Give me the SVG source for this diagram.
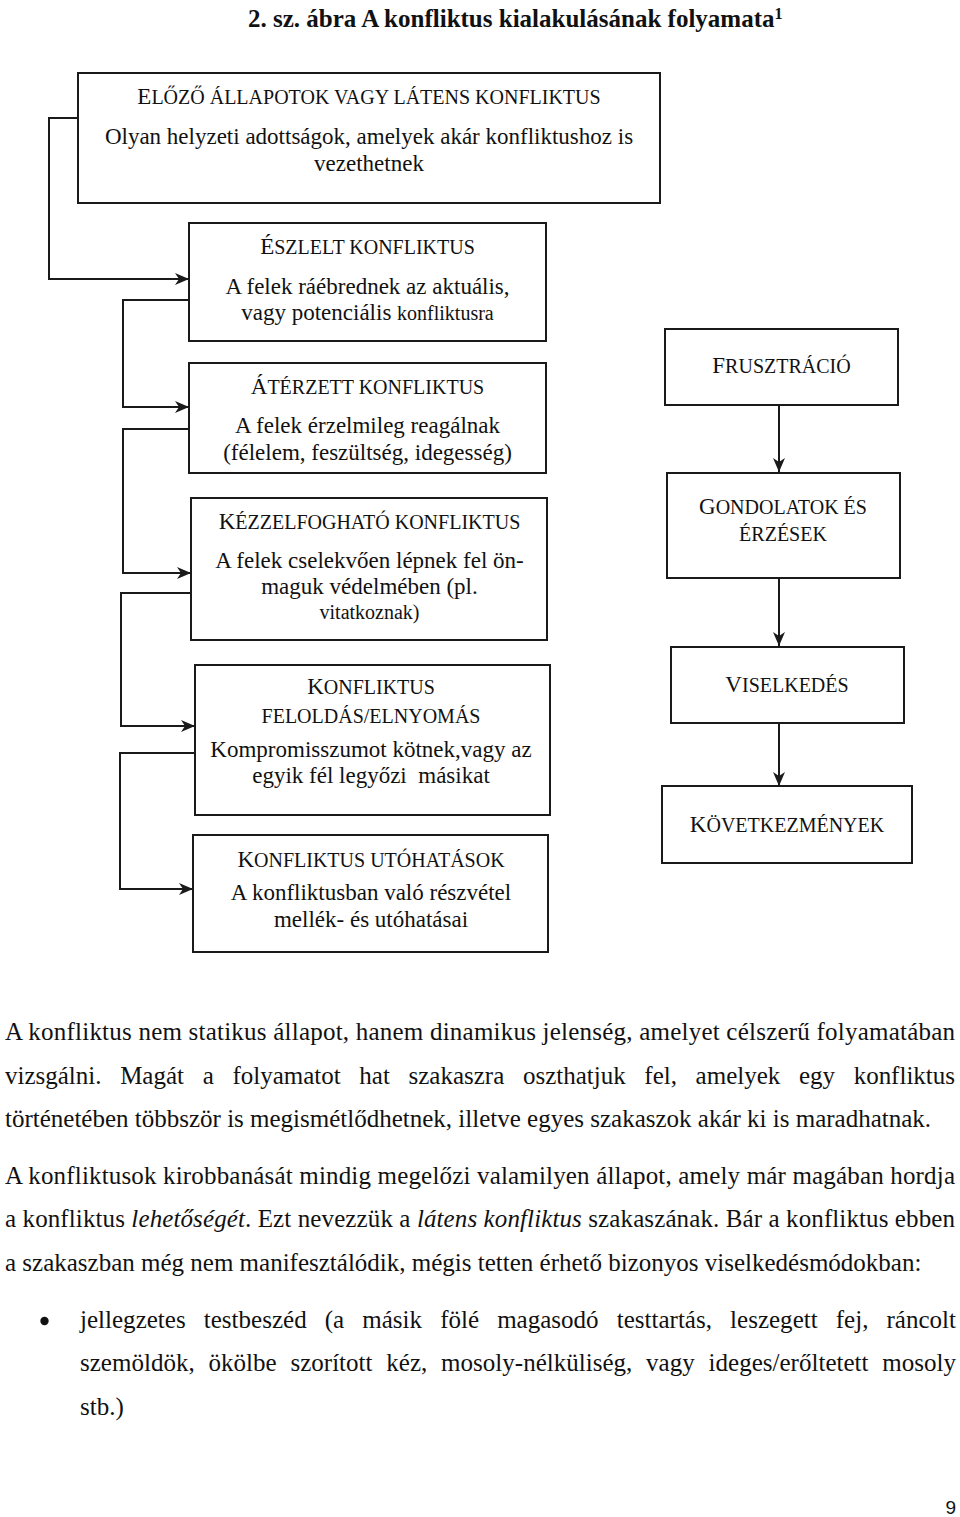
<svg xmlns="http://www.w3.org/2000/svg" width="960" height="1517" viewBox="0 0 960 1517">
<style>
text{font-family:"Liberation Serif","Times New Roman",serif;fill:#111}
.box{fill:#fff;stroke:#1a1a1a;stroke-width:2}
.c{text-anchor:middle}
.b{font-size:23px}
.big{font-size:23px}
.sc{font-size:20px}
.sm{font-size:20px}
.p{font-size:25px}
.conn{fill:none;stroke:#1a1a1a;stroke-width:2}
</style>
<defs>
<marker id="ah" markerUnits="userSpaceOnUse" viewBox="0 0 14 12" refX="14" refY="6" markerWidth="14" markerHeight="12" orient="auto">
<path d="M0,0 L14,6 L0,12 L4,6 z" fill="#1a1a1a"/>
</marker>
</defs>
<rect width="960" height="1517" fill="#fff"/>

<text x="248" y="27" font-size="25" font-weight="bold">2. sz. ábra A konfliktus kialakulásának folyamata<tspan font-size="16" dy="-8.5">1</tspan></text>

<g id="connectors">
<polyline class="conn" points="78,118 49,118 49,279 189,279" marker-end="url(#ah)"/>
<polyline class="conn" points="189,300 123,300 123,407 189,407" marker-end="url(#ah)"/>
<polyline class="conn" points="189,429 123,429 123,573 191,573" marker-end="url(#ah)"/>
<polyline class="conn" points="193,593 121,593 121,726 195,726" marker-end="url(#ah)"/>
<polyline class="conn" points="195,753 120,753 120,889 193,889" marker-end="url(#ah)"/>
<line class="conn" x1="779" y1="406" x2="779" y2="472" marker-end="url(#ah)"/>
<line class="conn" x1="779" y1="579" x2="779" y2="646" marker-end="url(#ah)"/>
<line class="conn" x1="779" y1="724" x2="779" y2="786" marker-end="url(#ah)"/>
</g>

<g id="n-elozo">
<rect class="box" x="78" y="73" width="582" height="130"/>
<text class="c" x="369" y="104"><tspan class="big">E</tspan><tspan class="sc">LŐZŐ ÁLLAPOTOK VAGY LÁTENS KONFLIKTUS</tspan></text>
<text class="c b" x="369" y="144">Olyan helyzeti adottságok, amelyek akár konfliktushoz is</text>
<text class="c b" x="369" y="171">vezethetnek</text>
</g>

<g id="n-eszlelt">
<rect class="box" x="189" y="223" width="357" height="118"/>
<text class="c" x="367.5" y="254"><tspan class="big">É</tspan><tspan class="sc">SZLELT KONFLIKTUS</tspan></text>
<text class="c b" x="367.5" y="294">A felek ráébrednek az aktuális,</text>
<text class="c b" x="367.5" y="320">vagy potenciális <tspan class="sm">konfliktusra</tspan></text>
</g>

<g id="n-aterzett">
<rect class="box" x="189" y="363" width="357" height="110"/>
<text class="c" x="367.5" y="394"><tspan class="big">Á</tspan><tspan class="sc">TÉRZETT KONFLIKTUS</tspan></text>
<text class="c b" x="367.5" y="433">A felek érzelmileg reagálnak</text>
<text class="c b" x="367.5" y="460">(félelem, feszültség, idegesség)</text>
</g>

<g id="n-kezzel">
<rect class="box" x="191" y="498" width="356" height="142"/>
<text class="c" x="369.5" y="529"><tspan class="big">K</tspan><tspan class="sc">ÉZZELFOGHATÓ KONFLIKTUS</tspan></text>
<text class="c b" x="369.5" y="568">A felek cselekvően lépnek fel ön-</text>
<text class="c b" x="369.5" y="594">maguk védelmében (pl.</text>
<text class="c sm" x="369.5" y="619">vitatkoznak)</text>
</g>

<g id="n-feloldas">
<rect class="box" x="195" y="665" width="355" height="150"/>
<text class="c" x="371" y="694"><tspan class="big">K</tspan><tspan class="sc">ONFLIKTUS</tspan></text>
<text class="c sc" x="371" y="723">FELOLDÁS/ELNYOMÁS</text>
<text class="c b" x="371" y="757">Kompromisszumot kötnek,vagy az</text>
<text class="c b" x="371" y="783">egyik fél legyőzi&#160; másikat</text>
</g>

<g id="n-utohatas">
<rect class="box" x="193" y="835" width="355" height="117"/>
<text class="c" x="371" y="867"><tspan class="big">K</tspan><tspan class="sc">ONFLIKTUS UTÓHATÁSOK</tspan></text>
<text class="c b" x="371" y="900">A konfliktusban való részvétel</text>
<text class="c b" x="371" y="927">mellék- és utóhatásai</text>
</g>

<g id="n-frusztracio">
<rect class="box" x="665" y="329" width="233" height="76"/>
<text class="c" x="781.5" y="373"><tspan class="big">F</tspan><tspan class="sc">RUSZTRÁCIÓ</tspan></text>
</g>

<g id="n-gondolatok">
<rect class="box" x="667" y="473" width="233" height="105"/>
<text class="c" x="783" y="514"><tspan class="big">G</tspan><tspan class="sc">ONDOLATOK ÉS</tspan></text>
<text class="c sc" x="783" y="541">ÉRZÉSEK</text>
</g>

<g id="n-viselkedes">
<rect class="box" x="671" y="647" width="233" height="76"/>
<text class="c" x="787" y="692"><tspan class="big">V</tspan><tspan class="sc">ISELKEDÉS</tspan></text>
</g>

<g id="n-kovetkezmenyek">
<rect class="box" x="662" y="786" width="250" height="77"/>
<text class="c" x="787" y="832"><tspan class="big">K</tspan><tspan class="sc">ÖVETKEZMÉNYEK</tspan></text>
</g>

<g id="paragraphs">
<text class="p" x="5" y="1040" textLength="950" lengthAdjust="spacing">A konfliktus nem statikus állapot, hanem dinamikus jelenség, amelyet célszerű folyamatában</text>
<text class="p" x="5" y="1083.5" word-spacing="12.4" textLength="950" lengthAdjust="spacing">vizsgálni. Magát a folyamatot hat szakaszra oszthatjuk fel, amelyek egy konfliktus</text>
<text class="p" x="5" y="1127">történetében többször is megismétlődhetnek, illetve egyes szakaszok akár ki is maradhatnak.</text>
<text class="p" x="5" y="1183.5" textLength="950" lengthAdjust="spacing">A konfliktusok kirobbanását mindig megelőzi valamilyen állapot, amely már magában hordja</text>
<text class="p" x="5" y="1227" textLength="950" lengthAdjust="spacing">a konfliktus <tspan font-style="italic">lehetőségét</tspan>. Ezt nevezzük a <tspan font-style="italic">látens konfliktus</tspan> szakaszának. Bár a konfliktus ebben</text>
<text class="p" x="5" y="1270.5">a szakaszban még nem manifesztálódik, mégis tetten érhető bizonyos viselkedésmódokban:</text>
<circle cx="44.5" cy="1321" r="4.2" fill="#111"/>
<text class="p" x="80" y="1327.5" word-spacing="11.8" textLength="876" lengthAdjust="spacing">jellegzetes testbeszéd (a másik fölé magasodó testtartás, leszegett fej, ráncolt</text>
<text class="p" x="80" y="1371" word-spacing="7.5" textLength="876" lengthAdjust="spacing">szemöldök, ökölbe szorított kéz, mosoly-nélküliség, vagy ideges/erőltetett mosoly</text>
<text class="p" x="80" y="1414.5">stb.)</text>
</g>

<text x="945.5" y="1514" font-size="19" style="font-family:'Liberation Sans',Arial,sans-serif">9</text>
</svg>
